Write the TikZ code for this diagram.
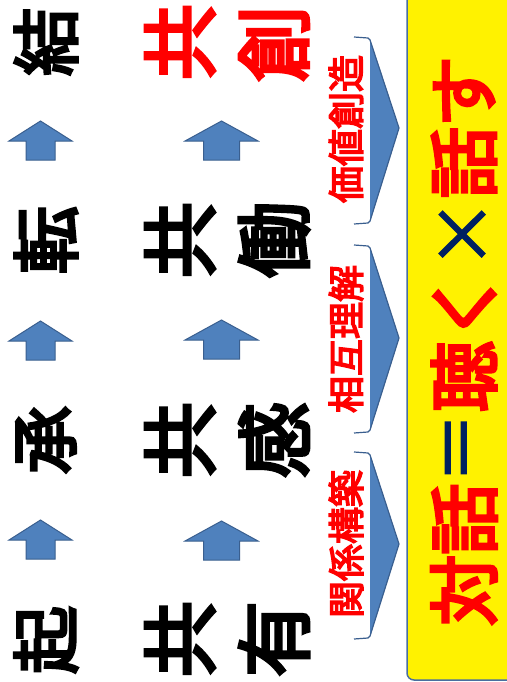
\documentclass[tikz,border=0pt]{standalone}
\usepackage{fontspec}
\newfontfamily\cjk{Noto Sans CJK JP}[FakeBold=4.5]
\newfontfamily\cjklbl{Noto Sans CJK JP}[FakeBold=4]
\newfontfamily\cjkthin{Noto Sans CJK JP}[FakeBold=2]
\definecolor{arrowblue}{HTML}{4F81BD}
\definecolor{arrowedge}{HTML}{3A5F8F}
\definecolor{boxedge}{HTML}{4A6FA0}
\definecolor{navy}{HTML}{002060}
\definecolor{kred}{HTML}{FF0000}
\tikzset{
  bigk/.style={rotate=90,inner sep=0pt,font=\cjk\fontsize{76}{76}\selectfont},
  smallk/.style={rotate=90,inner sep=0pt,font=\cjk\fontsize{68}{68}\selectfont},
  mainf/.style={rotate=90,inner sep=0pt,anchor=west,text=kred,font=\cjk\fontsize{71}{71}\selectfont},
  mainop/.style={rotate=90,inner sep=0pt,anchor=west,text=navy,font=\cjkthin\fontsize{71}{71}\selectfont},
  lbl/.style={rotate=90,inner sep=0pt,text=kred,font=\cjklbl\fontsize{37}{37}\selectfont},
  chev/.style={draw=arrowedge,line width=1.2pt,line join=round},
  uparr/.style={fill=arrowblue,draw=arrowedge,line width=1pt,line join=miter},
}
\begin{document}
\begin{tikzpicture}[x=1pt,y=-1pt]
\fill[white] (0,0) rectangle (506,682);
\useasboundingbox (0,0) rectangle (506,682);
% yellow box
\path[fill=yellow,draw=boxedge,line width=1.5pt,rounded corners=7pt] (407,-20) rectangle (530,680);
% column 1
\node[smallk] (ketsu) at (46,42) {結};
\node[smallk] (ten) at (46,240) {転};
\node[smallk] (sho) at (46,440) {承};
\node[smallk] (ki) at (46,640) {起};
% column 2
\node[bigk,text=kred] (k1) at (180,42) {共};
\node[bigk] (k2) at (180,240) {共};
\node[bigk] (k3) at (180,440) {共};
\node[bigk] (k4) at (180,639) {共};
% column 3
\node[bigk,text=kred] (sou) at (274,44) {創};
\node[bigk] (dou) at (274,240) {働};
\node[bigk] (kan) at (274,440) {感};
\node[bigk] (yuu) at (274,639) {有};
% up arrows column 1
\foreach \t in {121,321,520}{
  \path[uparr] (40.5,\t) -- (72,\t+20) -- (55,\t+20) -- (55,\t+39) -- (26,\t+39) -- (26,\t+20) -- (9,\t+20) -- cycle;
}
% up arrows column 2
\foreach \t in {121,320,521}{
  \path[uparr] (221.5,\t) -- (258,\t+20) -- (239.5,\t+20) -- (239.5,\t+39) -- (203.5,\t+39) -- (203.5,\t+20) -- (185,\t+20) -- cycle;
}
% chevrons
\foreach \a/\m/\b in {37/128/224, 245/338/433, 452/544/639}{
  \fill[arrowblue] (370,\a+2) -- (399,\m) -- (370,\b-2) -- cycle;
  \draw[chev] (354,\a) -- (368,\a+1) -- (370,\a+3) -- (399,\m) -- (370,\b-3) -- (368,\b-1) -- (354,\b);
}
% labels
\node[lbl] (l1) at (346,129) {価値創造};
\node[lbl] (l2) at (346,339) {相互理解};
\node[lbl] (l3) at (346,544) {関係構築};
% main formula
\coordinate (fstart) at (464,626);
\node[mainf] (f1) at (fstart) {対話};
\node[mainop] (f2) at (f1.east) {＝};
\node[mainf] (f3) at (f2.east) {聴く};
\node[mainop] (f4) at (f3.east) {×};
\node[mainf] (f5) at (f4.east) {話す};
\end{tikzpicture}
\end{document}
